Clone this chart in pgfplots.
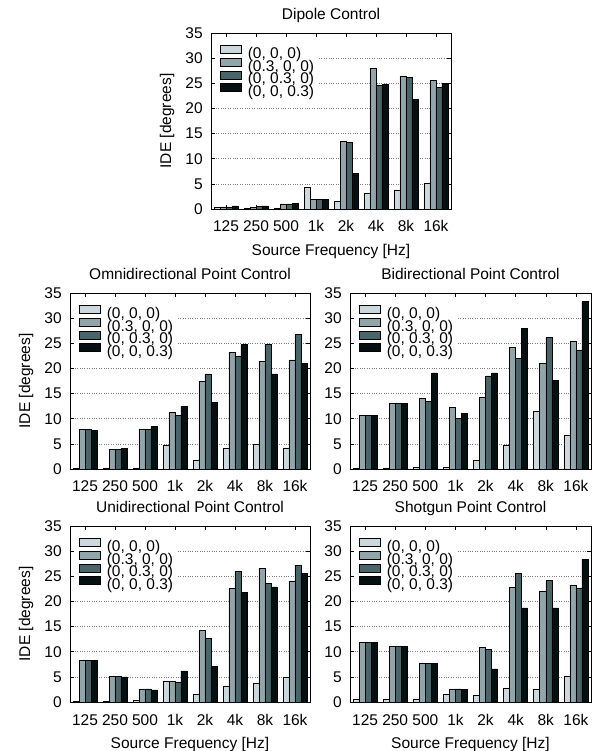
\documentclass[border=0pt]{standalone}
\usepackage{fontspec}
\setmainfont{Liberation Sans}
\usepackage{pgfplots}
\pgfplotsset{compat=1.18}
\definecolor{cA}{HTML}{CBD9DE}
\definecolor{cB}{HTML}{91A5AA}
\definecolor{cC}{HTML}{4A6569}
\definecolor{cD}{HTML}{061010}
\newcommand\ff{\fontsize{15.5pt}{17pt}\selectfont}
\pgfplotsset{
  swatch/.style={legend image code/.code={\draw[##1, line width=0.6pt] (0pt,1.5pt) rectangle (21pt,9.5pt);}},
  b1/.style={ybar, bar width=0.2, bar shift=-0.3, fill=cA, draw=black, line width=0.6pt, swatch},
  b2/.style={ybar, bar width=0.2, bar shift=-0.1, fill=cB, draw=black, line width=0.6pt, swatch},
  b3/.style={ybar, bar width=0.2, bar shift=0.1, fill=cC, draw=black, line width=0.6pt, swatch},
  b4/.style={ybar, bar width=0.2, bar shift=0.3, fill=cD, draw=black, line width=0.6pt, swatch},
  idebase/.style={
    scale only axis, width=240pt, height=176pt, anchor=south west,
    ymin=0, ymax=35, ytick={0,5,...,35},
    xmin=-0.5, xmax=7.5, xtick={0,...,7},
    xticklabels={125,250,500,1k,2k,4k,8k,16k},
    tick align=inside, tick pos=both, ticklabel pos=left,
    major tick length=4pt,
    tick style={black, line width=0.6pt},
    axis line style={line width=0.8pt},
    ymajorgrids, grid style={dotted, gray, line width=0.6pt},
    /pgf/number format/assume math mode=true,
    tick label style={font=\ff},
    yticklabel style={xshift=-3pt},
    xticklabel style={anchor=base, yshift=-23pt},
    title style={font=\ff, at={(0.5,1)}, anchor=base, yshift=7.5pt},
    label style={font=\ff},
    legend style={font=\ff, at={(0,1)}, anchor=north west, xshift=5pt, yshift=-8pt,
      draw=none, fill=white, inner sep=4pt,
      nodes={inner sep=0pt, text height=10pt, text depth=3pt},
      row sep=-3.6pt, column sep=6pt},
    legend cell align=left,
  },
  withylabel/.style={ylabel={IDE [degrees]},
    ylabel style={at={(axis description cs:-0.1833,0.5)}, anchor=center}},
  withxlabel/.style={xlabel={Source Frequency [Hz]},
    xlabel style={at={(axis description cs:0.5,-0.264)}, anchor=base}},
}
\begin{document}
\ff
\begin{tikzpicture}
\path[use as bounding box] (0,0) rectangle (596pt,751pt);

% Dipole
\begin{axis}[idebase, at={(211pt,542pt)}, title={Dipole Control},
  withylabel, withxlabel]
\addplot[b1] coordinates {(0,0.3)(1,0.2)(2,0.2)(3,4.3)(4,1.5)(5,3.1)(6,3.8)(7,5.2)};
\addplot[b2] coordinates {(0,0.4)(1,0.4)(2,1.0)(3,1.9)(4,13.5)(5,28.0)(6,26.4)(7,25.6)};
\addplot[b3] coordinates {(0,0.4)(1,0.5)(2,1.0)(3,1.9)(4,13.3)(5,24.5)(6,26.1)(7,24.2)};
\addplot[b4] coordinates {(0,0.6)(1,0.6)(2,1.1)(3,1.9)(4,7.0)(5,24.7)(6,21.8)(7,24.9)};
\legend{{(0, 0, 0)},{(0.3, 0, 0)},{(0, 0.3, 0)},{(0, 0, 0.3)}}
\end{axis}

% Omnidirectional
\begin{axis}[idebase, at={(70pt,282pt)}, title={Omnidirectional Point Control},
  withylabel]
\addplot[b1] coordinates {(0,0.1)(1,0.1)(2,0.2)(3,4.7)(4,1.8)(5,4.1)(6,5.0)(7,4.2)};
\addplot[b2] coordinates {(0,7.9)(1,3.9)(2,7.9)(3,11.2)(4,17.4)(5,23.2)(6,21.4)(7,21.7)};
\addplot[b3] coordinates {(0,7.9)(1,3.9)(2,7.9)(3,10.6)(4,18.9)(5,22.5)(6,24.7)(7,26.8)};
\addplot[b4] coordinates {(0,7.7)(1,4.1)(2,8.5)(3,12.5)(4,13.3)(5,24.7)(6,18.9)(7,21.0)};
\legend{{(0, 0, 0)},{(0.3, 0, 0)},{(0, 0.3, 0)},{(0, 0, 0.3)}}
\end{axis}

% Bidirectional
\begin{axis}[idebase, width=241pt, at={(350pt,282pt)}, title={Bidirectional Point Control}]
\addplot[b1] coordinates {(0,0.1)(1,0.1)(2,0.3)(3,0.3)(4,1.7)(5,4.7)(6,11.4)(7,6.8)};
\addplot[b2] coordinates {(0,10.7)(1,13.0)(2,14.0)(3,12.3)(4,14.3)(5,24.2)(6,21.0)(7,25.4)};
\addplot[b3] coordinates {(0,10.7)(1,13.0)(2,13.5)(3,10.1)(4,18.5)(5,22.0)(6,26.1)(7,23.7)};
\addplot[b4] coordinates {(0,10.7)(1,13.0)(2,19.1)(3,11.1)(4,19.1)(5,28.0)(6,17.6)(7,33.3)};
\legend{{(0, 0, 0)},{(0.3, 0, 0)},{(0, 0.3, 0)},{(0, 0, 0.3)}}
\end{axis}

% Unidirectional
\begin{axis}[idebase, at={(70pt,49pt)}, title={Unidirectional Point Control},
  withylabel, withxlabel]
\addplot[b1] coordinates {(0,0.2)(1,0.1)(2,0.3)(3,4.2)(4,1.5)(5,3.1)(6,3.8)(7,4.9)};
\addplot[b2] coordinates {(0,8.3)(1,5.1)(2,2.6)(3,4.1)(4,14.3)(5,22.6)(6,26.6)(7,24.1)};
\addplot[b3] coordinates {(0,8.3)(1,5.1)(2,2.6)(3,4.0)(4,12.7)(5,26.0)(6,23.6)(7,27.2)};
\addplot[b4] coordinates {(0,8.2)(1,5.0)(2,2.4)(3,6.2)(4,7.1)(5,21.8)(6,22.9)(7,25.6)};
\legend{{(0, 0, 0)},{(0.3, 0, 0)},{(0, 0.3, 0)},{(0, 0, 0.3)}}
\end{axis}

% Shotgun
\begin{axis}[idebase, width=241pt, at={(350pt,49pt)}, title={Shotgun Point Control},
  withxlabel]
\addplot[b1] coordinates {(0,0.5)(1,0.5)(2,0.6)(3,1.6)(4,1.3)(5,2.8)(6,2.6)(7,5.2)};
\addplot[b2] coordinates {(0,11.9)(1,11.1)(2,7.6)(3,2.6)(4,10.8)(5,22.8)(6,22.0)(7,23.2)};
\addplot[b3] coordinates {(0,11.9)(1,11.1)(2,7.6)(3,2.6)(4,10.4)(5,25.5)(6,24.2)(7,22.7)};
\addplot[b4] coordinates {(0,11.9)(1,11.1)(2,7.6)(3,2.5)(4,6.6)(5,18.7)(6,18.7)(7,28.4)};
\legend{{(0, 0, 0)},{(0.3, 0, 0)},{(0, 0.3, 0)},{(0, 0, 0.3)}}
\end{axis}
\end{tikzpicture}
\end{document}
